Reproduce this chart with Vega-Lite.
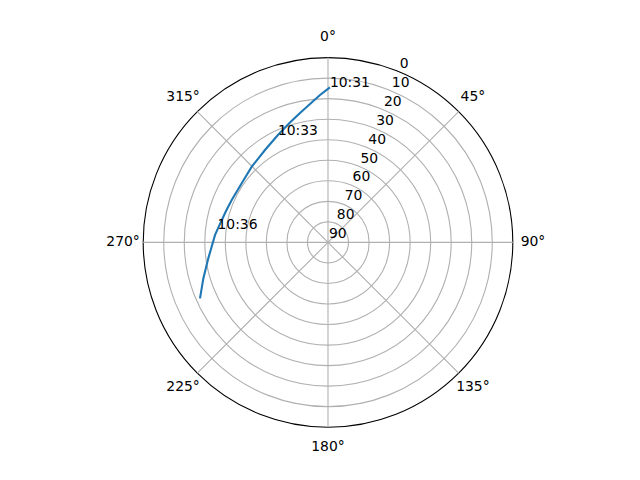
{
  "$schema": "https://vega.github.io/schema/vega-lite/v6.json",
  "width": 640,
  "height": 480,
  "autosize": {"type": "none"},
  "padding": 0,
  "background": "white",
  "datasets": {
    "track": [
      {"i": 0, "az": 0.7, "el": 14.46, "label": "10:31"},
      {"i": 1, "az": 356.9, "el": 18.12, "label": null},
      {"i": 2, "az": 352.6, "el": 22.03, "label": null},
      {"i": 3, "az": 347.8, "el": 25.52, "label": null},
      {"i": 4, "az": 342.4, "el": 28.74, "label": null},
      {"i": 5, "az": 335.0, "el": 32.3, "label": "10:33"},
      {"i": 6, "az": 325.7, "el": 35.54, "label": null},
      {"i": 7, "az": 314.8, "el": 37.66, "label": null},
      {"i": 8, "az": 304.4, "el": 39.06, "label": null},
      {"i": 9, "az": 293.8, "el": 38.76, "label": null},
      {"i": 10, "az": 287.1, "el": 38.03, "label": null},
      {"i": 11, "az": 276.7, "el": 35.82, "label": "10:36"},
      {"i": 12, "az": 273.7, "el": 34.85, "label": null},
      {"i": 13, "az": 262.4, "el": 31.19, "label": null},
      {"i": 14, "az": 253.9, "el": 26.81, "label": null},
      {"i": 15, "az": 246.4, "el": 21.98, "label": null}
    ],
    "rings": [
      {"el": 0, "frame": true}, {"el": 10, "frame": false}, {"el": 20, "frame": false},
      {"el": 30, "frame": false}, {"el": 40, "frame": false}, {"el": 50, "frame": false},
      {"el": 60, "frame": false}, {"el": 70, "frame": false}, {"el": 80, "frame": false}
    ],
    "spokes": [
      {"az": 0, "label": "0°"}, {"az": 45, "label": "45°"},
      {"az": 90, "label": "90°"}, {"az": 135, "label": "135°"},
      {"az": 180, "label": "180°"}, {"az": 225, "label": "225°"},
      {"az": 270, "label": "270°"}, {"az": 315, "label": "315°"}
    ],
    "rlabels": [
      {"el": 0}, {"el": 10}, {"el": 20}, {"el": 30}, {"el": 40},
      {"el": 50}, {"el": 60}, {"el": 70}, {"el": 80}, {"el": 90}
    ]
  },
  "layer": [
    {
      "data": {"name": "rings"},
      "transform": [
        {"calculate": "0", "as": "cx"},
        {"calculate": "0", "as": "cy"},
        {"calculate": "90 - datum.el", "as": "zen"}
      ],
      "mark": {"type": "point", "shape": "circle", "filled": false, "opacity": 1, "strokeWidth": 1.1},
      "encoding": {
        "x": {"field": "cx", "type": "quantitative", "scale": {"domain": [-1.77489, 1.68831], "nice": false, "zero": false}, "axis": null},
        "y": {"field": "cy", "type": "quantitative", "scale": {"domain": [-1.28571, 1.31169], "nice": false, "zero": false}, "axis": null},
        "size": {"field": "zen", "type": "quantitative", "scale": {"type": "pow", "exponent": 2, "domain": [0, 90], "range": [0, 136604.16]}, "legend": null},
        "color": {"field": "frame", "type": "nominal", "scale": {"domain": [true, false], "range": ["black", "#b0b0b0"]}, "legend": null},
        "order": {"field": "el", "sort": "descending"}
      }
    },
    {
      "data": {"name": "spokes"},
      "transform": [
        {"calculate": "0", "as": "cx"},
        {"calculate": "0", "as": "cy"},
        {"calculate": "sin(datum.az * PI / 180)", "as": "ex"},
        {"calculate": "cos(datum.az * PI / 180)", "as": "ey"}
      ],
      "mark": {"type": "rule", "color": "#b0b0b0", "strokeWidth": 1.1},
      "encoding": {
        "x": {"field": "cx", "type": "quantitative"},
        "y": {"field": "cy", "type": "quantitative"},
        "x2": {"field": "ex"},
        "y2": {"field": "ey"}
      }
    },
    {
      "data": {"name": "track"},
      "transform": [
        {"calculate": "(1 - datum.el / 90) * sin(datum.az * PI / 180)", "as": "px"},
        {"calculate": "(1 - datum.el / 90) * cos(datum.az * PI / 180)", "as": "py"}
      ],
      "mark": {"type": "line", "color": "#1f77b4", "strokeWidth": 2.1, "interpolate": "linear"},
      "encoding": {
        "x": {"field": "px", "type": "quantitative"},
        "y": {"field": "py", "type": "quantitative"},
        "order": {"field": "i", "type": "quantitative"}
      }
    },
    {
      "data": {"name": "track"},
      "transform": [
        {"filter": "datum.label != null"},
        {"calculate": "(1 - datum.el / 90) * sin(datum.az * PI / 180)", "as": "px"},
        {"calculate": "(1 - datum.el / 90) * cos(datum.az * PI / 180)", "as": "py"}
      ],
      "mark": {"type": "text", "align": "left", "baseline": "alphabetic", "fontSize": 13.9, "font": "DejaVu Sans", "color": "black"},
      "encoding": {
        "x": {"field": "px", "type": "quantitative"},
        "y": {"field": "py", "type": "quantitative"},
        "text": {"field": "label", "type": "nominal"}
      }
    },
    {
      "data": {"name": "spokes"},
      "transform": [
        {"calculate": "1.109 * sin(datum.az * PI / 180)", "as": "lx"},
        {"calculate": "1.109 * cos(datum.az * PI / 180)", "as": "ly"}
      ],
      "mark": {"type": "text", "align": "center", "baseline": "middle", "fontSize": 13.9, "font": "DejaVu Sans", "color": "black"},
      "encoding": {
        "x": {"field": "lx", "type": "quantitative"},
        "y": {"field": "ly", "type": "quantitative"},
        "text": {"field": "label", "type": "nominal"}
      }
    },
    {
      "data": {"name": "rlabels"},
      "transform": [
        {"calculate": "(1 - datum.el / 90) * sin(22.5 * PI / 180)", "as": "lx"},
        {"calculate": "(1 - datum.el / 90) * cos(22.5 * PI / 180)", "as": "ly"}
      ],
      "mark": {"type": "text", "align": "left", "baseline": "bottom", "dx": 1, "dy": -1, "fontSize": 13.9, "font": "DejaVu Sans", "color": "black"},
      "encoding": {
        "x": {"field": "lx", "type": "quantitative"},
        "y": {"field": "ly", "type": "quantitative"},
        "text": {"field": "el", "type": "quantitative"}
      }
    }
  ],
  "config": {"view": {"stroke": null}}
}
